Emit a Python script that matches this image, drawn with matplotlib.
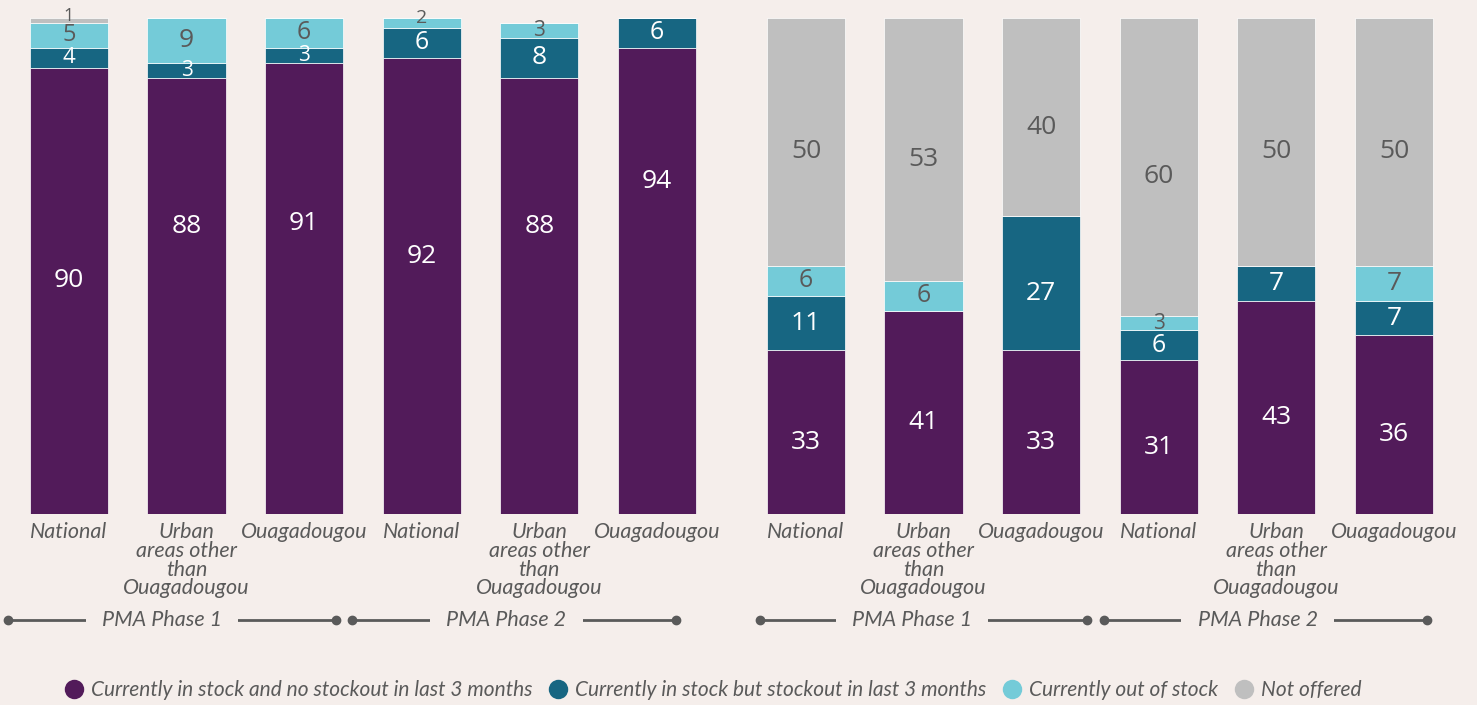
import numpy as np
import matplotlib.pyplot as plt
from matplotlib.lines import Line2D
import matplotlib.transforms as mtransforms

# categories shared by both panels
categories = ["National", "Urban\nareas other\nthan\nOuagadougou", "Ouagadougou",
              "National", "Urban\nareas other\nthan\nOuagadougou", "Ouagadougou"]
phases = ["PMA Phase 1", "PMA Phase 2"]

series_names = ["Currently in stock and no stockout in last 3 months",
                "Currently in stock but stockout in last 3 months",
                "Currently out of stock",
                "Not offered"]

# left panel values (%)
left_in_stock = [90, 88, 91, 92, 88, 94]
left_stockout = [4, 3, 3, 6, 8, 6]
left_out = [5, 9, 6, 2, 3, 0]
left_not_offered = [1, 0, 0, 0, 0, 0]

# right panel values (%)
right_in_stock = [33, 41, 33, 31, 43, 36]
right_stockout = [11, 0, 27, 6, 7, 7]
right_out = [6, 6, 0, 3, 0, 7]
right_not_offered = [50, 53, 40, 60, 50, 50]

# where the big purple labels sit in the left panel (the source places them unevenly)
left_main_label_y = [47, 58, 58.5, 52, 58, 67]

BG = "#f5eeeb"
COLORS = ["#521b5a", "#176682", "#74cbd8", "#bfbfbf"]
LABEL_COLORS = ["white", "white", "#5a5a5a", "#5a5a5a"]
GREY = "#5a5a5a"

plt.rcParams["font.family"] = ["Lato", "DejaVu Sans"]

fig = plt.figure(figsize=(14.77, 7.05), dpi=100, facecolor=BG)


def label_size(v):
    return min(19, 12 + v)


def draw_panel(ax, stacks, group_spans, phase_text_x, main_label_y=None):
    x = np.arange(len(categories))
    bottom = np.zeros(len(categories))
    for i, vals in enumerate(stacks):
        vals = np.array(vals, dtype=float)
        ax.bar(x, vals, width=0.665, bottom=bottom, color=COLORS[i],
               edgecolor="#ffffff", linewidth=0.5)
        for j, (xi, b, v) in enumerate(zip(x, bottom, vals)):
            if v <= 0:
                continue
            y = b + v / 2
            if v <= 2:
                y += 1
            elif v >= 25:
                y -= 2
            if i == 0 and main_label_y is not None:
                y = main_label_y[j]
            ax.text(xi, y, f"{int(v)}", ha="center", va="center",
                    color=LABEL_COLORS[i], fontsize=label_size(v),
                    family=["Open Sans", "DejaVu Sans"], clip_on=False)
        bottom += vals

    ax.set_xlim(-0.55, 5.5)
    ax.set_ylim(0, 100)
    ax.set_facecolor(BG)
    for s in ax.spines.values():
        s.set_visible(False)
    ax.set_yticks([])
    ax.set_xticks(x)
    ax.set_xticklabels(categories, fontsize=15.5, style="italic", color=GREY,
                       linespacing=0.92, va="top")
    ax.tick_params(axis="x", length=0, pad=6)

    # phase brackets sit under the tick labels in drawing order
    trans = mtransforms.blended_transform_factory(ax.transData, fig.transFigure)
    for (x0, x1), tx, name in zip(group_spans, phase_text_x, phases):
        ax.plot([x0, x1], [0.1206, 0.1206], transform=trans, color=GREY,
                lw=2, marker="o", markersize=6, clip_on=False,
                solid_capstyle="butt", zorder=0.8)
        ax.text(tx, 0.1206, name, transform=trans, ha="center", va="center",
                fontsize=15.5, style="italic", color=GREY, zorder=0.9,
                bbox=dict(boxstyle="square,pad=0.75", fc=BG, ec="none"))


ax_l = fig.add_axes([4.3 / 1477, (705 - 514) / 705, 711.5 / 1477, 496 / 705])
draw_panel(ax_l, [left_in_stock, left_stockout, left_out, left_not_offered],
           [(-0.52, 2.27), (2.41, 5.16)], [0.79, 3.72], left_main_label_y)

ax_r = fig.add_axes([741.3 / 1477, (705 - 514) / 705, 711.5 / 1477, 496 / 705])
draw_panel(ax_r, [right_in_stock, right_stockout, right_out, right_not_offered],
           [(-0.39, 2.39), (2.53, 5.28)], [0.90, 3.84])

handles = [Line2D([], [], marker="o", ls="none", markersize=14,
                  markerfacecolor=c, markeredgecolor="none") for c in COLORS]
leg = fig.legend(handles, series_names, loc="center", ncol=4,
                 bbox_to_anchor=(0.481, 0.021), frameon=False,
                 handletextpad=0.1, columnspacing=0.55, handlelength=1.4,
                 prop=dict(family="Lato", style="italic", size=15.0))
for t in leg.get_texts():
    t.set_color(GREY)

fig.savefig("out.png", dpi=100, facecolor=BG)
